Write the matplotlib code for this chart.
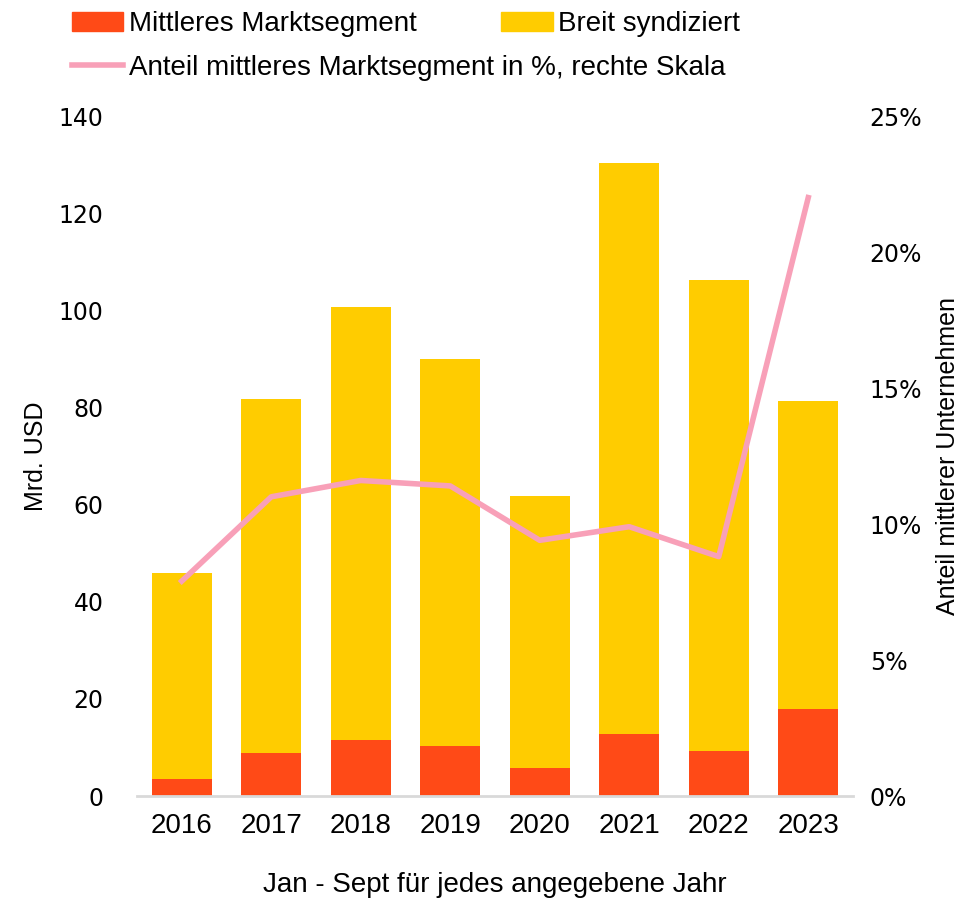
import matplotlib
matplotlib.use("Agg")
import matplotlib.pyplot as plt
from matplotlib.patches import Patch
from matplotlib.lines import Line2D
import numpy as np

years = ["2016", "2017", "2018", "2019", "2020", "2021", "2022", "2023"]
total = [46.0, 81.7, 100.7, 90.0, 61.8, 130.3, 106.2, 81.3]
mittel = [3.5, 8.9, 11.5, 10.3, 5.8, 12.8, 9.3, 17.9]
anteil = [7.9, 11.0, 11.6, 11.4, 9.4, 9.9, 8.8, 22.0]

breit = [t - m for t, m in zip(total, mittel)]

RED = "#FF4A17"
YEL = "#FFCC00"
PINK = "#F8A0B8"
NARROW = ["Liberation Sans", "DejaVu Sans"]
WIDE = ["DejaVu Sans"]

fig = plt.figure(figsize=(9.71, 8.98), dpi=100)
ax = fig.add_axes([137/971, 1-796/898, (853-137)/971, (796-116)/898])
x = np.arange(len(years))
ax.bar(x, mittel, 0.67, color=RED, zorder=2)
ax.bar(x, breit, 0.67, bottom=mittel, color=YEL, zorder=2)
ax.set_xlim(-0.5, len(years)-0.5)
ax.set_ylim(0, 140)
ax.set_yticks(range(0, 141, 20))
ax.set_xticks(x)
ax.set_xticklabels(years, fontfamily=NARROW, fontsize=20)
for lab in ax.get_yticklabels():
    lab.set_fontfamily(WIDE)
    lab.set_fontsize(17)
for s in ["top", "right", "left"]:
    ax.spines[s].set_visible(False)
ax.spines["bottom"].set_color("#D9D9D9")
ax.spines["bottom"].set_linewidth(2)
ax.tick_params(length=0)
ax.tick_params(axis="y", pad=24)
ax.tick_params(axis="x", pad=12)
ax.set_ylabel("Mrd. USD", fontfamily=NARROW, fontsize=18, labelpad=8)
ax.set_xlabel("Jan - Sept für jedes angegebene Jahr", fontfamily=NARROW, fontsize=20, labelpad=24)

ax2 = ax.twinx()
ax2.plot(x, anteil, color=PINK, lw=4, zorder=3)
ax2.set_ylim(0, 25)
ax2.set_yticks(range(0, 26, 5))
ax2.set_yticklabels([f"{v}%" for v in range(0, 26, 5)], fontfamily=WIDE, fontsize=17)
for s in ["top", "right", "left", "bottom"]:
    ax2.spines[s].set_visible(False)
ax2.tick_params(length=0, pad=12)
ax2.set_ylabel("Anteil mittlerer Unternehmen", fontfamily=NARROW, fontsize=18, labelpad=10)

leg_kw = dict(loc="center left", frameon=False, prop={"family": NARROW, "size": 20},
              handlelength=1.85, handletextpad=0.2, borderpad=0, borderaxespad=0)
fig.legend([Patch(color=RED), Patch(color=YEL)], ["Mittleres Marktsegment", "Breit syndiziert"],
           ncol=2, bbox_to_anchor=(72/971, 1-24/898), columnspacing=3.05, **leg_kw)
fig.legend([Line2D([], [], color=PINK, lw=4)], ["Anteil mittleres Marktsegment in %, rechte Skala"],
           bbox_to_anchor=(72/971, 1-68/898), **leg_kw)

fig.savefig("out.png", dpi=100)
